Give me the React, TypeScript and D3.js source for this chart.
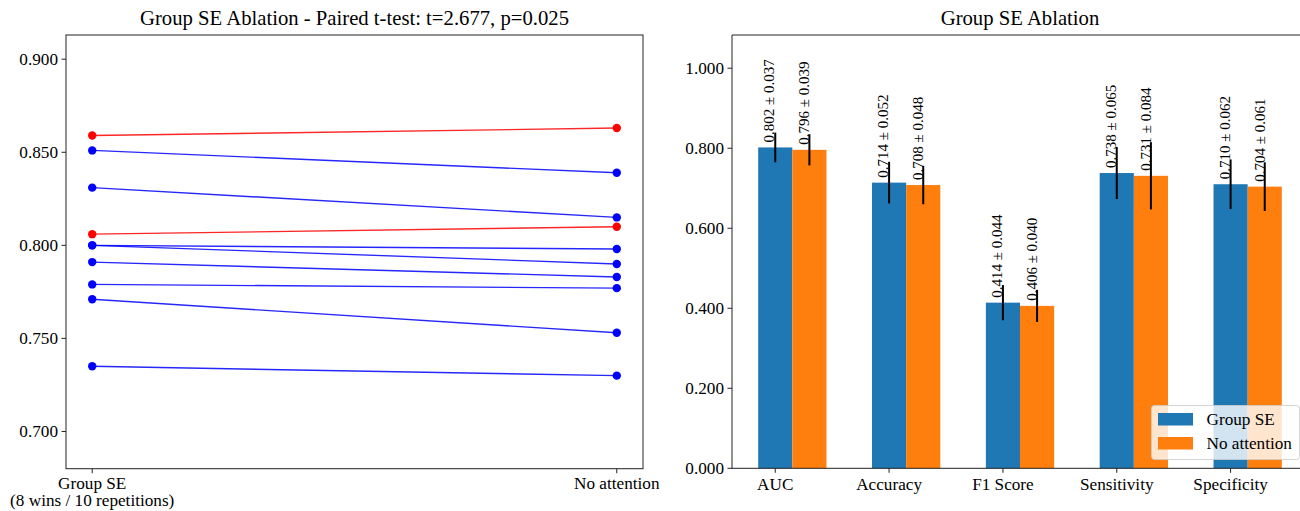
import * as d3 from "d3";
import React, { useEffect, useRef } from "react";

// paired results, one entry per repetition
const groupSE = [0.859, 0.851, 0.831, 0.806, 0.800, 0.800, 0.791, 0.779, 0.771, 0.735];
const noAttention = [0.863, 0.839, 0.815, 0.810, 0.798, 0.790, 0.783, 0.777, 0.753, 0.730];
const pairLabels = ["Group SE", "No attention"];
const leftTicks = [0.7, 0.75, 0.8, 0.85, 0.9];

// summary metrics
const metrics = ["AUC", "Accuracy", "F1 Score", "Sensitivity", "Specificity"];
const seMean = [0.802, 0.714, 0.414, 0.738, 0.710];
const seStd = [0.037, 0.052, 0.044, 0.065, 0.062];
const naMean = [0.796, 0.708, 0.406, 0.731, 0.704];
const naStd = [0.039, 0.048, 0.040, 0.084, 0.061];
const rightTicks = [0, 0.2, 0.4, 0.6, 0.8, 1.0];

const FONT = "'Liberation Serif', 'Times New Roman', serif";
const BLUE = "#1f77b4";
const ORANGE = "#ff7f0e";
const TICK_FS = "17.2px";

export default function App() {
  const svgRef = useRef<SVGSVGElement>(null);

  useEffect(() => {
    const svg = d3.select(svgRef.current);
    svg.selectAll("*").remove();
    svg.style("font-family", FONT);

    const fmt = d3.format(".3f");

    // ---------- Left panel: paired lines ----------
    const L = { left: 66, right: 643, top: 35, bottom: 468.7 };
    const x1 = d3.scaleLinear().domain([-0.05, 1.05]).range([L.left, L.right]);
    const y1 = d3.scaleLinear()
      .domain([d3.min(noAttention.concat(groupSE))! - 0.05, d3.max(noAttention.concat(groupSE))! + 0.05])
      .range([L.bottom, L.top]);

    const left = svg.append("g");

    groupSE.forEach((v, i) => {
      const w = noAttention[i];
      const c = w > v ? "#ff0000" : "#0000ff";
      left.append("line")
        .attr("x1", x1(0)).attr("y1", y1(v))
        .attr("x2", x1(1)).attr("y2", y1(w))
        .attr("stroke", c)
        .attr("stroke-width", 1.4)
        .attr("stroke-opacity", 0.85);
      [[0, v], [1, w]].forEach(([xx, yy]) => {
        left.append("circle")
          .attr("cx", x1(xx)).attr("cy", y1(yy))
          .attr("r", 4.2)
          .attr("fill", c);
      });
    });

    left.append("rect")
      .attr("x", L.left).attr("y", L.top)
      .attr("width", L.right - L.left).attr("height", L.bottom - L.top)
      .attr("fill", "none").attr("stroke", "#222").attr("stroke-width", 1);

    leftTicks.forEach(t => {
      left.append("line")
        .attr("x1", L.left - 4.5).attr("x2", L.left)
        .attr("y1", y1(t)).attr("y2", y1(t))
        .attr("stroke", "#222");
      left.append("text")
        .attr("x", L.left - 8).attr("y", y1(t))
        .attr("dy", "0.33em")
        .attr("text-anchor", "end")
        .style("font-size", TICK_FS)
        .text(fmt(t));
    });

    pairLabels.forEach((lab, i) => {
      left.append("line")
        .attr("x1", x1(i)).attr("x2", x1(i))
        .attr("y1", L.bottom).attr("y2", L.bottom + 4.5)
        .attr("stroke", "#222");
      left.append("text")
        .attr("x", x1(i)).attr("y", 489)
        .attr("text-anchor", "middle")
        .style("font-size", TICK_FS)
        .text(lab);
    });
    const wins = groupSE.filter((v, i) => v > noAttention[i]).length;
    left.append("text")
      .attr("x", x1(0)).attr("y", 506)
      .attr("text-anchor", "middle")
      .style("font-size", TICK_FS)
      .text(`(${wins} wins / ${groupSE.length} repetitions)`);

    left.append("text")
      .attr("x", (L.left + L.right) / 2).attr("y", 25)
      .attr("text-anchor", "middle")
      .style("font-size", "20.7px")
      .text("Group SE Ablation - Paired t-test: t=2.677, p=0.025");

    // ---------- Right panel: grouped bars ----------
    const R = { left: 732, right: 1308, top: 35, bottom: 468.3 };
    const bw = 0.3;
    const x2 = d3.scaleLinear().domain([-0.38, 4.68]).range([R.left, R.right]);
    const y2 = d3.scaleLinear().domain([0, 1.083]).range([R.bottom, R.top]);

    const right = svg.append("g");

    const series = [
      { mean: seMean, std: seStd, color: BLUE, off: 0, lx: -1 },
      { mean: naMean, std: naStd, color: ORANGE, off: bw, lx: 0 },
    ];

    series.forEach(s => {
      s.mean.forEach((m, i) => {
        right.append("rect")
          .attr("x", x2(i + s.off - bw / 2))
          .attr("y", y2(m))
          .attr("width", x2(bw) - x2(0))
          .attr("height", y2(0) - y2(m))
          .attr("fill", s.color);
      });
    });

    series.forEach(s => {
      s.mean.forEach((m, i) => {
        const cx = x2(i + s.off);
        right.append("line")
          .attr("x1", cx).attr("x2", cx)
          .attr("y1", y2(m - s.std[i])).attr("y2", y2(m + s.std[i]))
          .attr("stroke", "#000").attr("stroke-width", 2);
        right.append("text")
          .attr("transform", `translate(${cx + s.lx},${y2(m) - 5}) rotate(-90)`)
          .attr("text-anchor", "start")
          .style("font-size", "15px")
          .text(`${fmt(m)} ± ${fmt(s.std[i])}`);
      });
    });

    // spines
    right.append("path")
      .attr("d", `M${R.left},${R.bottom}V${R.top}H${R.right}V${R.bottom}H${R.left}`)
      .attr("fill", "none").attr("stroke", "#222").attr("stroke-width", 1);

    rightTicks.forEach(t => {
      right.append("line")
        .attr("x1", R.left - 4.5).attr("x2", R.left)
        .attr("y1", y2(t)).attr("y2", y2(t))
        .attr("stroke", "#222");
      right.append("text")
        .attr("x", R.left - 8).attr("y", y2(t))
        .attr("dy", "0.33em")
        .attr("text-anchor", "end")
        .style("font-size", TICK_FS)
        .text(fmt(t));
    });

    metrics.forEach((lab, i) => {
      right.append("line")
        .attr("x1", x2(i)).attr("x2", x2(i))
        .attr("y1", R.bottom).attr("y2", R.bottom + 4.5)
        .attr("stroke", "#222");
      right.append("text")
        .attr("x", x2(i)).attr("y", 490)
        .attr("text-anchor", "middle")
        .style("font-size", TICK_FS)
        .text(lab);
    });

    right.append("text")
      .attr("x", (R.left + R.right) / 2).attr("y", 25)
      .attr("text-anchor", "middle")
      .style("font-size", "20.7px")
      .text("Group SE Ablation");

    // legend
    const lg = right.append("g").attr("transform", "translate(1151.5,405.5)");
    lg.append("rect")
      .attr("width", 148).attr("height", 54).attr("rx", 3)
      .attr("fill", "#fff").attr("fill-opacity", 0.8)
      .attr("stroke", "#ccc").attr("stroke-opacity", 0.8);
    [["Group SE", BLUE], ["No attention", ORANGE]].forEach(([lab, c], i) => {
      lg.append("rect")
        .attr("x", 6.5).attr("y", 7.5 + i * 24)
        .attr("width", 35).attr("height", 12.5)
        .attr("fill", c);
      lg.append("text")
        .attr("x", 55).attr("y", 13.5 + i * 24)
        .attr("dy", "0.33em")
        .style("font-size", TICK_FS)
        .text(lab);
    });
  }, []);

  return (
    <div style={{ position: "absolute", left: 0, top: 0 }}>
      <svg ref={svgRef} width={1300} height={511} style={{ display: "block", background: "#fff" }}></svg>
    </div>
  );
}
